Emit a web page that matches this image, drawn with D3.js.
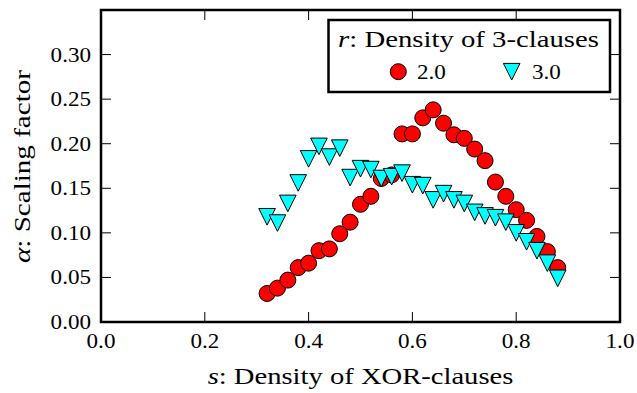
<!DOCTYPE html>
<html>
<head>
<meta charset="utf-8">
<script src="https://cdn.jsdelivr.net/npm/d3@7"></script>
</head>
<body style="margin:0">
<script>
// ---- data ----
const sValues = [0.32, 0.34, 0.36, 0.38, 0.40, 0.42, 0.44, 0.46, 0.48, 0.50,
                 0.52, 0.54, 0.56, 0.58, 0.60, 0.62, 0.64, 0.66, 0.68, 0.70,
                 0.72, 0.74, 0.76, 0.78, 0.80, 0.82, 0.84, 0.86, 0.88];
const alphaR2 = [0.032, 0.038, 0.047, 0.061, 0.066, 0.080, 0.082, 0.099, 0.112, 0.132,
                 0.141, 0.161, 0.165, 0.211, 0.211, 0.229, 0.238, 0.223, 0.210, 0.206,
                 0.194, 0.181, 0.157, 0.141, 0.126, 0.114, 0.096, 0.079, 0.061];
const alphaR3 = [0.118, 0.111, 0.133, 0.156, 0.183, 0.197, 0.185, 0.195, 0.162, 0.172,
                 0.171, 0.161, 0.163, 0.167, 0.154, 0.153, 0.137, 0.144, 0.137, 0.133,
                 0.123, 0.119, 0.117, 0.112, 0.100, 0.090, 0.080, 0.066, 0.049];
const seriesLabels = ["2.0", "3.0"];
const xTicks = [0.0, 0.2, 0.4, 0.6, 0.8, 1.0];
const yTicks = [0.00, 0.05, 0.10, 0.15, 0.20, 0.25, 0.30];

const W = 637, H = 393;
const FONT = "'Liberation Serif', 'Times New Roman', serif";
const svg = d3.select("body").append("svg")
  .attr("width", W).attr("height", H)
  .style("display", "block");

const x = d3.scaleLinear().domain([0, 1]).range([101, 620]);
const y = d3.scaleLinear().domain([0, 0.35]).range([322, 10]);

const TL = 10;      // tick length (inward)
const TICK_FS = 21; // tick label font size
const TICK_SX = 1.1;

function fitWidth(sel, target, rotate) {
  const w = sel.node().getComputedTextLength();
  const k = target / w;
  const ax = +sel.attr("data-x"), ay = +sel.attr("data-y");
  sel.attr("transform", `translate(${ax},${ay})${rotate ? " rotate(-90)" : ""} scale(${k},1)`);
}
function txt(parent) {
  return parent.append("text").style("font-family", FONT);
}

// ---- markers: circles (r = 2.0) ----
const R = 8;
svg.append("g").selectAll("circle")
  .data(sValues.map((s, i) => [s, alphaR2[i]]))
  .join("circle")
  .attr("cx", d => x(d[0]))
  .attr("cy", d => y(d[1]))
  .attr("r", R)
  .attr("fill", "#ff0000")
  .attr("stroke", "#000")
  .attr("stroke-width", 1);

// ---- markers: downward triangles (r = 3.0) ----
const T = 8.3;
function triPath(cx, cy) {
  return `M${cx - T},${cy - T}L${cx + T},${cy - T}L${cx},${cy + T}Z`;
}
svg.append("g").selectAll("path")
  .data(sValues.map((s, i) => [s, alphaR3[i]]))
  .join("path")
  .attr("d", d => triPath(x(d[0]), y(d[1])))
  .attr("fill", "#00ffff")
  .attr("stroke", "#000")
  .attr("stroke-width", 1);

// ---- ticks (all four sides, inward) ----
const tg = svg.append("g").attr("stroke", "#000").attr("stroke-width", 1);
xTicks.forEach(t => {
  tg.append("line").attr("x1", x(t)).attr("x2", x(t)).attr("y1", y(0)).attr("y2", y(0) - TL);
  tg.append("line").attr("x1", x(t)).attr("x2", x(t)).attr("y1", y(0.35)).attr("y2", y(0.35) + TL);
});
yTicks.forEach(t => {
  tg.append("line").attr("y1", y(t)).attr("y2", y(t)).attr("x1", x(0)).attr("x2", x(0) + TL);
  tg.append("line").attr("y1", y(t)).attr("y2", y(t)).attr("x1", x(1)).attr("x2", x(1) - TL);
});

// ---- tick labels ----
const xtg = svg.append("g");
xTicks.forEach(t => {
  txt(xtg)
    .attr("transform", `translate(${x(t)},348) scale(${TICK_SX},1)`)
    .attr("text-anchor", "middle")
    .attr("font-size", TICK_FS)
    .text(t.toFixed(1));
});
const ytg = svg.append("g");
yTicks.forEach(t => {
  txt(ytg)
    .attr("transform", `translate(91,${y(t) + 7}) scale(${TICK_SX},1)`)
    .attr("text-anchor", "end")
    .attr("font-size", TICK_FS)
    .text(t.toFixed(2));
});

// ---- spines ----
svg.append("rect")
  .attr("x", x(0)).attr("y", y(0.35))
  .attr("width", x(1) - x(0)).attr("height", y(0) - y(0.35))
  .attr("fill", "none").attr("stroke", "#000").attr("stroke-width", 2.5);

// ---- axis labels ----
const xl = txt(svg)
  .attr("data-x", 360.5).attr("data-y", 384)
  .attr("text-anchor", "middle").attr("font-size", 23);
xl.append("tspan").attr("font-style", "italic").text("s");
xl.append("tspan").text(": Density of XOR-clauses");
fitWidth(xl, 306, false);

const yl = txt(svg)
  .attr("data-x", 30).attr("data-y", 166.5)
  .attr("text-anchor", "middle").attr("font-size", 23);
yl.append("tspan").attr("font-style", "italic").text("α");
yl.append("tspan").text(": Scaling factor");
fitWidth(yl, 193, true);

// ---- legend ----
const lg = svg.append("g");
lg.append("rect")
  .attr("x", 328.5).attr("y", 20).attr("width", 281.5).attr("height", 72)
  .attr("fill", "#fff").attr("stroke", "#000").attr("stroke-width", 2.5);
const lt = txt(lg)
  .attr("data-x", 468.5).attr("data-y", 47)
  .attr("text-anchor", "middle").attr("font-size", 23);
lt.append("tspan").attr("font-style", "italic").text("r");
lt.append("tspan").text(": Density of 3-clauses");
fitWidth(lt, 261, false);

lg.append("circle").attr("cx", 398.3).attr("cy", 71.7).attr("r", R)
  .attr("fill", "#ff0000").attr("stroke", "#000").attr("stroke-width", 1);
txt(lg).attr("transform", `translate(417,79) scale(${TICK_SX},1)`)
  .attr("font-size", TICK_FS).text(seriesLabels[0]);
lg.append("path").attr("d", triPath(511.7, 71.7))
  .attr("fill", "#00ffff").attr("stroke", "#000").attr("stroke-width", 1);
txt(lg).attr("transform", `translate(532,79) scale(${TICK_SX},1)`)
  .attr("font-size", TICK_FS).text(seriesLabels[1]);
</script>
</body>
</html>
